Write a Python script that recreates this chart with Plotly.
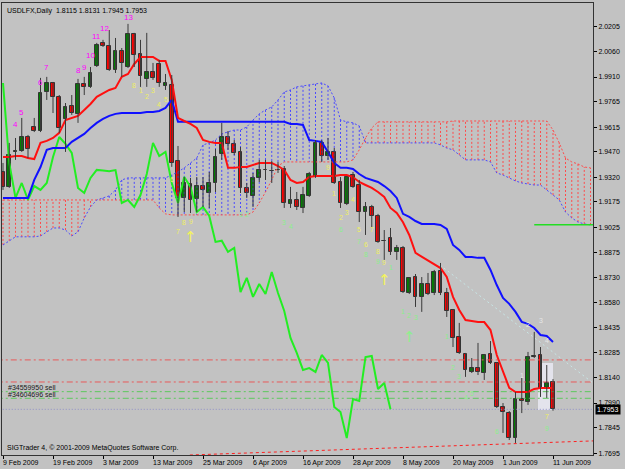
import plotly.graph_objects as go

# ---------------- data ----------------
date_labels = ["9 Feb 2009", "19 Feb 2009", "3 Mar 2009", "13 Mar 2009", "25 Mar 2009",
               "6 Apr 2009", "16 Apr 2009", "28 Apr 2009", "8 May 2009", "20 May 2009",
               "1 Jun 2009", "11 Jun 2009"]
date_index = [0, 8, 16, 24, 32, 40, 48, 56, 64, 72, 80, 88]

opens = [1.9351, 1.9263, 1.9469, 1.9475, 1.9557, 1.9616, 1.9592, 1.9822, 1.9875, 1.9793,
         1.9663, 1.9740, 1.9693, 1.9869, 1.9852, 1.9975, 2.0111, 2.0093, 1.9952, 2.0064,
         1.9969, 2.0164, 2.0046, 1.9899, 1.9940, 1.9987, 1.9858, 1.9864, 1.9416, 1.9198,
         1.9280, 1.9192, 1.9268, 1.9227, 1.9286, 1.9457, 1.9557, 1.9516, 1.9469, 1.9257,
         1.9210, 1.9316, 1.9363, 1.9357, 1.9363, 1.9369, 1.9162, 1.9186, 1.9139, 1.9210,
         1.9321, 1.9522, 1.9445, 1.9469, 1.9292, 1.9162, 1.9333, 1.9274, 1.9115, 1.9145,
         1.9092, 1.8942, 1.8962, 1.8880, 1.8903, 1.8638, 1.8732, 1.8615, 1.8691, 1.8638,
         1.8768, 1.8638, 1.8538, 1.8379, 1.8279, 1.8173, 1.8196, 1.8167, 1.8279, 1.8226,
         1.7967, 1.7931, 1.7784, 1.8014, 1.7996, 1.8261, 1.8273, 1.8073, 1.8115]
highs = [1.9404, 1.9522, 1.9551, 1.9669, 1.9569, 1.9669, 1.9905, 1.9911, 1.9881, 1.9804,
         1.9757, 1.9804, 1.9899, 1.9911, 1.9969, 2.0111, 2.0129, 2.0187, 2.0140, 2.0081,
         2.0223, 2.0170, 2.0129, 2.0170, 1.9993, 2.0011, 1.9928, 1.9922, 1.9504, 1.9321,
         1.9316, 1.9321, 1.9321, 1.9351, 1.9486, 1.9640, 1.9592, 1.9539, 1.9498, 1.9286,
         1.9345, 1.9422, 1.9422, 1.9416, 1.9410, 1.9386, 1.9263, 1.9233, 1.9263, 1.9351,
         1.9539, 1.9539, 1.9551, 1.9492, 1.9321, 1.9327, 1.9351, 1.9304, 1.9174, 1.9157,
         1.9104, 1.9009, 1.9021, 1.8921, 1.8915, 1.8732, 1.8750, 1.8732, 1.8756, 1.8774,
         1.8815, 1.8668, 1.8544, 1.8462, 1.8285, 1.8255, 1.8344, 1.8279, 1.8355, 1.8232,
         1.7990, 1.7943, 1.8055, 1.8138, 1.8291, 1.8409, 1.8320, 1.8214, 1.8131]
lows = [1.9245, 1.9257, 1.9422, 1.9469, 1.9433, 1.9586, 1.9586, 1.9775, 1.9698, 1.9581,
        1.9469, 1.9687, 1.9640, 1.9804, 1.9846, 1.9969, 2.0087, 1.9946, 1.9934, 1.9911,
        1.9963, 1.9969, 1.9852, 1.9852, 1.9893, 1.9852, 1.9834, 1.9381, 1.9086, 1.9115,
        1.9109, 1.9115, 1.9145, 1.9139, 1.9233, 1.9422, 1.9481, 1.9451, 1.9227, 1.9198,
        1.9145, 1.9292, 1.9304, 1.9286, 1.9345, 1.9139, 1.9139, 1.9127, 1.9109, 1.9204,
        1.9316, 1.9410, 1.9422, 1.9280, 1.9139, 1.9156, 1.9257, 1.9056, 1.8980, 1.9026,
        1.8933, 1.8833, 1.8862, 1.8833, 1.8638, 1.8632, 1.8556, 1.8527, 1.8626, 1.8626,
        1.8626, 1.8497, 1.8320, 1.8279, 1.8144, 1.8167, 1.8155, 1.8126, 1.8220, 1.7961,
        1.7814, 1.7772, 1.7755, 1.7931, 1.7979, 1.8255, 1.8026, 1.8020, 1.7945]
closes = [1.9263, 1.9451, 1.9475, 1.9557, 1.9486, 1.9592, 1.9816, 1.9875, 1.9793, 1.9610,
          1.9734, 1.9698, 1.9869, 1.9852, 1.9934, 2.0099, 2.0093, 1.9952, 2.0064, 1.9993,
          2.0164, 2.0040, 1.9917, 1.9940, 1.9905, 1.9875, 1.9875, 1.9404, 1.9198, 1.9286,
          1.9186, 1.9268, 1.9245, 1.9286, 1.9439, 1.9557, 1.9516, 1.9463, 1.9257, 1.9227,
          1.9316, 1.9363, 1.9360, 1.9355, 1.9362, 1.9168, 1.9186, 1.9145, 1.9215, 1.9339,
          1.9522, 1.9445, 1.9469, 1.9286, 1.9168, 1.9321, 1.9263, 1.9115, 1.9145, 1.9092,
          1.8939, 1.8946, 1.8880, 1.8903, 1.8644, 1.8727, 1.8615, 1.8691, 1.8632, 1.8762,
          1.8638, 1.8532, 1.8373, 1.8285, 1.8185, 1.8196, 1.8173, 1.8273, 1.8226, 1.7967,
          1.7937, 1.7784, 1.8014, 1.8002, 1.8261, 1.8267, 1.8073, 1.8108, 1.7953]

tenkan = [1.9439, 1.9439, 1.9445, 1.9445, 1.9433, 1.9427, 1.9522, 1.9534, 1.9551, 1.9581,
          1.9657, 1.9669, 1.9681, 1.9716, 1.9751, 1.9793, 1.9816, 1.9834, 1.9846, 1.9911,
          1.9928, 1.9987, 2.0028, 2.0028, 2.0028, 2.0005, 2.0005, 1.9893, 1.9669, 1.9651,
          1.9634, 1.9610, 1.9539, 1.9528, 1.9522, 1.9522, 1.9375, 1.9375, 1.9380, 1.9380,
          1.9392, 1.9404, 1.9404, 1.9404, 1.9386, 1.9363, 1.9304, 1.9286, 1.9292, 1.9321,
          1.9327, 1.9327, 1.9327, 1.9327, 1.9333, 1.9333, 1.9321, 1.9292, 1.9274, 1.9257,
          1.9233, 1.9204, 1.9139, 1.9109, 1.9055, 1.8980, 1.8874, 1.8851, 1.8833, 1.8809,
          1.8785, 1.8732, 1.8615, 1.8538, 1.8479, 1.8473, 1.8467, 1.8467, 1.8420, 1.8273,
          1.8173, 1.8079, 1.8055, 1.8055, 1.8055, 1.8073, 1.8079, 1.8079, 1.8079]
kijun = [1.9198, 1.9198, 1.9198, 1.9198, 1.9198, 1.9304, 1.9380, 1.9481, 1.9492, 1.9492,
         1.9492, 1.9528, 1.9551, 1.9575, 1.9610, 1.9640, 1.9663, 1.9681, 1.9693, 1.9698,
         1.9698, 1.9698, 1.9698, 1.9704, 1.9704, 1.9710, 1.9728, 1.9775, 1.9646, 1.9646,
         1.9646, 1.9646, 1.9646, 1.9646, 1.9646, 1.9646, 1.9646, 1.9646, 1.9646, 1.9646,
         1.9646, 1.9646, 1.9646, 1.9646, 1.9646, 1.9646, 1.9634, 1.9634, 1.9628, 1.9539,
         1.9534, 1.9528, 1.9469, 1.9404, 1.9375, 1.9375, 1.9369, 1.9339, 1.9316, 1.9304,
         1.9292, 1.9268, 1.9239, 1.9198, 1.9104, 1.9086, 1.9062, 1.9045, 1.9045, 1.9045,
         1.9039, 1.9015, 1.8921, 1.8892, 1.8850, 1.8850, 1.8845, 1.8845, 1.8774, 1.8685,
         1.8609, 1.8574, 1.8527, 1.8468, 1.8456, 1.8432, 1.8391, 1.8385, 1.8350]
senkou_a = [1.8921, 1.8945, 1.8969, 1.8969, 1.8969, 1.8969, 1.8974, 1.8998, 1.9021, 1.9021,
            1.9009, 1.8974, 1.8998, 1.9080, 1.9145, 1.9186, 1.9198, 1.9210, 1.9245, 1.9304,
            1.9316, 1.9316, 1.9316, 1.9316, 1.9316, 1.9316, 1.9316, 1.9333, 1.9351, 1.9375,
            1.9404, 1.9433, 1.9510, 1.9522, 1.9539, 1.9575, 1.9587, 1.9598, 1.9598, 1.9616,
            1.9657, 1.9693, 1.9716, 1.9734, 1.9775, 1.9822, 1.9834, 1.9852, 1.9858, 1.9864,
            1.9869, 1.9875, 1.9858, 1.9787, 1.9657, 1.9646, 1.9640, 1.9622, 1.9522, 1.9522,
            1.9522, 1.9522, 1.9522, 1.9522, 1.9522, 1.9522, 1.9522, 1.9522, 1.9522, 1.9522,
            1.9510, 1.9492, 1.9481, 1.9451, 1.9422, 1.9422, 1.9422, 1.9422, 1.9410, 1.9345,
            1.9333, 1.9316, 1.9298, 1.9286, 1.9280, 1.9274, 1.9274, 1.9245, 1.9215, 1.9186,
            1.9115, 1.9080, 1.9056, 1.9045, 1.9039]
senkou_b = [1.9186, 1.9186, 1.9186, 1.9186, 1.9186, 1.9186, 1.9186, 1.9186, 1.9186, 1.9186,
            1.9186, 1.9186, 1.9186, 1.9186, 1.9186, 1.9186, 1.9186, 1.9186, 1.9186, 1.9186,
            1.9186, 1.9186, 1.9186, 1.9186, 1.9186, 1.9139, 1.9104, 1.9098, 1.9098, 1.9098,
            1.9098, 1.9098, 1.9098, 1.9098, 1.9098, 1.9098, 1.9098, 1.9098, 1.9098, 1.9098,
            1.9115, 1.9168, 1.9233, 1.9304, 1.9386, 1.9410, 1.9410, 1.9410, 1.9410, 1.9410,
            1.9410, 1.9410, 1.9410, 1.9410, 1.9410, 1.9410, 1.9422, 1.9481, 1.9551, 1.9610,
            1.9646, 1.9646, 1.9646, 1.9646, 1.9646, 1.9646, 1.9646, 1.9646, 1.9646, 1.9646,
            1.9646, 1.9646, 1.9651, 1.9651, 1.9651, 1.9651, 1.9651, 1.9651, 1.9651, 1.9651,
            1.9651, 1.9651, 1.9651, 1.9651, 1.9651, 1.9651, 1.9651, 1.9651, 1.9598, 1.9522,
            1.9433, 1.9410, 1.9398, 1.9380, 1.9375]

price_ticks = [2.0205, 2.0060, 1.9910, 1.9765, 1.9615, 1.9470, 1.9320, 1.9175, 1.9025,
               1.8875, 1.8730, 1.8580, 1.8435, 1.8285, 1.8140, 1.7990, 1.7845, 1.7695]

stop_levels = [1.8244, 1.8114]
entry_levels = [1.8057, 1.8018]
order_labels = ["#34559950 sell", "#34604696 sell"]
order_label_prices = [1.8080, 1.8040]
bid_price = 1.7953
green_level = 1.9040
green_level_start = 85
trend_red_idx = [29.9, 94.4]
trend_red_price = [1.7684, 1.7767]
trend_cyan_idx = [69.9, 94.4]
trend_cyan_price = [1.8803, 1.8108]
box_idx = [85.6, 88.0]
box_price = [1.7949, 1.8226]

td_idx = [2, 3, 6, 7, 12, 13, 14, 14.9, 16.3, 20]
td_txt = ["4", "5", "6", "7", "8", "9", "10", "11", "12", "13"]
td_price = [1.9628, 1.9704, 1.9875, 1.9964, 1.9946, 1.9964, 2.0034, 2.0146, 2.0197, 2.0258]

yel_idx = [21, 22, 23, 24, 25, 26, 27, 28, 29, 30, 52, 53, 54, 55, 56, 57, 58, 59, 60, 61, 87]
yel_txt = ["8", "1", "2", "3", "4", "5", "6", "7", "8", "9", "9", "1", "2", "3", "4", "5", "6", "7", "8", "9", "7"]
yel_price = [1.9858, 1.9833, 1.9793, 1.9833, 1.9746, 1.9775, 1.9304, 1.8998, 1.9056, 1.9062,
             1.9380, 1.9227, 1.9080, 1.9110, 1.9186, 1.9010, 1.8921, 1.9010, 1.8880, 1.8815, 1.7908]

grn_idx = [38, 39, 45, 46, 54, 57, 58, 60, 62, 64, 65, 66, 71, 72, 73, 74, 75, 79, 87]
grn_txt = ["1", "2", "3", "4", "6", "7", "8", "9", "1", "1", "2", "3", "1", "2", "3", "4", "5", "6", "9"]
grn_price = [1.9098, 1.9098, 1.9051, 1.9027, 1.9015, 1.8939, 1.8862, 1.8821, 1.8786, 1.8527,
             1.8503, 1.8491, 1.8379, 1.8202, 1.8144, 1.8020, 1.8049, 1.7820, 1.7843]

wht_idx = [83, 84, 86, 87]
wht_txt = ["1", "2", "3", "4"]
wht_price = [1.8154, 1.8450, 1.8479, 1.8361]

arrow_idx = [30, 61, 65]
arrow_price = [1.8968, 1.8715, 1.8379]
arrow_col = ["#F4F45A", "#F4F45A", "#8CF08C"]

# ---------------- figure ----------------
FONT = "Liberation Sans"
n = len(opens)
idx = list(range(n))
fig = go.Figure()

# Ichimoku cloud hatching
for col, cond in (("#4B4BFF", lambda a, b: a >= b), ("#FF4B4B", lambda a, b: a < b)):
    hx, hy = [], []
    for i, (a, b) in enumerate(zip(senkou_a, senkou_b)):
        if cond(a, b):
            hx += [i, i, None]
            hy += [a, b, None]
    fig.add_trace(go.Scatter(x=hx, y=hy, mode="lines", line=dict(color=col, width=1, dash="2px,2px"),
                             hoverinfo="skip", showlegend=False))
cloud_x = list(range(len(senkou_a)))
fig.add_trace(go.Scatter(x=cloud_x, y=senkou_b, mode="lines",
                         line=dict(color="#FF4B4B", width=1, dash="2px,2px"), showlegend=False))
fig.add_trace(go.Scatter(x=cloud_x, y=senkou_a, mode="lines",
                         line=dict(color="#4B4BFF", width=1, dash="2px,2px"), showlegend=False))

# horizontal order / price lines
for lv in stop_levels:
    fig.add_trace(go.Scatter(x=[-1, 96], y=[lv, lv], mode="lines",
                             line=dict(color="#E85A5A", width=1, dash="6px,3px,2px,3px"), showlegend=False))
for lv in entry_levels:
    fig.add_trace(go.Scatter(x=[-1, 96], y=[lv, lv], mode="lines",
                             line=dict(color="#5CC85C", width=1, dash="6px,3px,2px,3px"), showlegend=False))
fig.add_trace(go.Scatter(x=[-1, 96], y=[bid_price, bid_price], mode="lines",
                         line=dict(color="#9090C8", width=1, dash="1px,2px"), showlegend=False))
fig.add_trace(go.Scatter(x=trend_red_idx, y=trend_red_price, mode="lines",
                         line=dict(color="#FF2020", width=1, dash="3px,3px"), showlegend=False))
fig.add_trace(go.Scatter(x=trend_cyan_idx, y=trend_cyan_price, mode="lines",
                         line=dict(color="#C8E6E6", width=1, dash="2px,3px"), showlegend=False))
fig.add_trace(go.Scatter(x=[green_level_start, 96], y=[green_level, green_level], mode="lines",
                         line=dict(color="#22DD22", width=1.5), showlegend=False))

# selection box
fig.add_shape(type="rect", xref="x", yref="y", x0=box_idx[0], x1=box_idx[1], y0=box_price[0], y1=box_price[1],
              fillcolor="rgba(238,238,250,0.75)", line=dict(width=0), layer="below")

# chikou span (close shifted back 26 bars)
chikou = closes[26:]
fig.add_trace(go.Scatter(x=list(range(len(chikou))), y=chikou, mode="lines",
                         line=dict(color="#22EE22", width=2), showlegend=False))
# kijun / tenkan
fig.add_trace(go.Scatter(x=idx, y=kijun, mode="lines", line=dict(color="#1010FF", width=2), showlegend=False))
fig.add_trace(go.Scatter(x=idx, y=tenkan, mode="lines", line=dict(color="#FF1010", width=2), showlegend=False))

# candles: wicks
wx, wy = [], []
for i in idx:
    wx += [i, i, None]
    wy += [lows[i], highs[i], None]
fig.add_trace(go.Scatter(x=wx, y=wy, mode="lines", line=dict(color="#3A3A3A", width=1),
                         hoverinfo="skip", showlegend=False))
# candles: bodies
for up, col in ((True, "#008000"), (False, "#FF0000")):
    bx, bb, bh = [], [], []
    for i in idx:
        if (closes[i] >= opens[i]) == up:
            bx.append(i)
            bb.append(min(opens[i], closes[i]))
            bh.append(max(abs(closes[i] - opens[i]), 0.00025))
    fig.add_trace(go.Bar(x=bx, y=bh, base=bb, width=0.62, marker=dict(color=col, line=dict(color="#333333", width=1)),
                         showlegend=False))

anns = []
for i, t, p in zip(td_idx, td_txt, td_price):
    anns.append(dict(x=i, y=p, text=t, showarrow=False, font=dict(family=FONT, size=8, color="#FF00FF")))
for i, t, p in zip(yel_idx, yel_txt, yel_price):
    anns.append(dict(x=i, y=p, text=t, showarrow=False, font=dict(family=FONT, size=7, color="#EEEE66")))
for i, t, p in zip(grn_idx, grn_txt, grn_price):
    anns.append(dict(x=i, y=p, text=t, showarrow=False, font=dict(family=FONT, size=7, color="#8CEE8C")))
for i, t, p in zip(wht_idx, wht_txt, wht_price):
    anns.append(dict(x=i, y=p, text=t, showarrow=False, font=dict(family=FONT, size=7, color="#E6E6E6")))
for i, p, c in zip(arrow_idx, arrow_price, arrow_col):
    anns.append(dict(x=i, y=p, text="↑", showarrow=False, font=dict(family="DejaVu Sans", size=15, color=c)))
for t, p in zip(order_labels, order_label_prices):
    anns.append(dict(x=0.007, xref="paper", y=p, yref="y", text=t, xanchor="left", showarrow=False,
                     font=dict(family=FONT, size=7, color="#202020")))
for i, t in zip(date_index, date_labels):
    anns.append(dict(x=i, y=0, yref="paper", text=t, xanchor="left", yanchor="top", xshift=-2, yshift=-2,
                     showarrow=False, font=dict(family=FONT, size=7, color="#000000")))
anns.append(dict(x=0.005, xref="paper", y=0.995, yref="paper", xanchor="left", yanchor="top", showarrow=False,
                 text="USDLFX,Daily  1.8115 1.8131 1.7945 1.7953", font=dict(family=FONT, size=7, color="#000000")))
anns.append(dict(x=0.005, xref="paper", y=0.003, yref="paper", xanchor="left", yanchor="bottom", showarrow=False,
                 text="SIGTrader 4, © 2001-2009 MetaQuotes Software Corp.", font=dict(family=FONT, size=7, color="#000000")))
anns.append(dict(x=1, xref="paper", y=bid_price, yref="y", xanchor="left", xshift=2, showarrow=False,
                 text="1.7953", bgcolor="#000000", borderpad=1, font=dict(family=FONT, size=7, color="#FFFFFF")))

fig.update_layout(
    width=625, height=469,
    margin=dict(l=2, r=32, t=3, b=14),
    paper_bgcolor="#C2C2C2", plot_bgcolor="#C2C2C2",
    barmode="overlay", bargap=0, showlegend=False,
    annotations=anns,
    xaxis=dict(range=[-0.16, 94.4], showgrid=False, zeroline=False, tickvals=date_index, showticklabels=False,
               ticks="outside", ticklen=3, tickcolor="#000000", showline=True, linecolor="#333333",
               linewidth=1, mirror=True),
    yaxis=dict(range=[1.7684, 2.0346], side="right", showgrid=False, zeroline=False, tickvals=price_ticks,
               ticktext=[f"{v:.4f}" for v in price_ticks], ticks="outside", ticklen=3, tickcolor="#000000",
               tickfont=dict(family=FONT, size=7, color="#000000"), showline=True, linecolor="#333333",
               linewidth=1, mirror=True),
)
fig.write_html("out.html")
